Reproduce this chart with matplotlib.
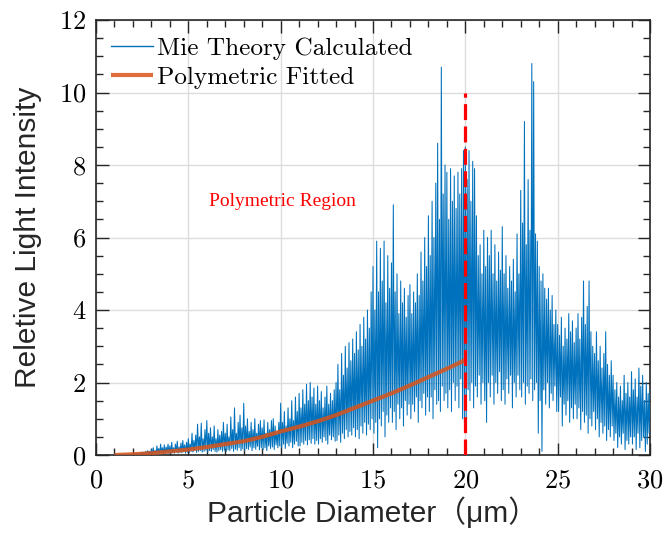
import numpy as np
import matplotlib
matplotlib.use("Agg")
import matplotlib.pyplot as plt
from matplotlib.ticker import MultipleLocator

# ---- Data ----
# Mie signal: for each unit interval [k, k+1), 10 local maxima (at k+0.1*i)
# and 10 local minima (at k+0.1*i+0.05)
mie_start = 1.0
mie_step = 0.1
mie_peaks = [
    # 1
    0.01, 0.01, 0.02, 0.01, 0.02, 0.02, 0.03, 0.02, 0.03, 0.03,
    # 2
    0.03, 0.04, 0.05, 0.04, 0.06, 0.08, 0.07, 0.10, 0.12, 0.10,
    # 3
    0.15, 0.20, 0.12, 0.25, 0.18, 0.30, 0.20, 0.28, 0.22, 0.30,
    # 4
    0.25, 0.35, 0.20, 0.30, 0.38, 0.22, 0.33, 0.40, 0.28, 0.35,
    # 5
    0.45, 0.30, 0.60, 0.40, 0.55, 0.85, 0.50, 0.88, 0.45, 0.70,
    # 6
    0.95, 0.60, 0.75, 0.50, 0.80, 0.45, 0.70, 0.55, 0.65, 0.90,
    # 7
    0.60, 0.85, 0.50, 1.05, 0.70, 1.30, 0.60, 0.90, 1.10, 0.75,
    # 8
    1.43, 0.80, 1.00, 0.65, 0.90, 0.70, 1.00, 0.60, 0.85, 0.95,
    # 9
    0.75, 0.97, 0.60, 0.90, 0.70, 0.95, 1.00, 0.80, 0.65, 0.90,
    # 10
    1.43, 0.90, 1.20, 0.80, 1.30, 1.00, 1.50, 0.95, 1.60, 1.20,
    # 11
    1.70, 1.30, 1.80, 1.40, 1.95, 1.50, 2.00, 1.60, 1.85, 1.40,
    # 12
    1.90, 1.50, 1.75, 1.30, 1.60, 1.90, 1.40, 1.70, 1.50, 1.80,
    # 13
    2.00, 2.50, 1.80, 2.80, 2.20, 3.00, 2.40, 3.10, 2.60, 3.20,
    # 14
    2.80, 3.40, 2.90, 3.60, 3.00, 3.80, 3.20, 4.00, 3.50, 4.50,
    # 15
    5.20, 4.00, 5.90, 4.50, 5.70, 4.80, 5.90, 4.20, 5.50, 4.60,
    # 16
    5.30, 6.90, 4.50, 5.00, 3.90, 4.80, 4.20, 4.60, 3.80, 4.40,
    # 17
    4.70, 3.90, 4.50, 4.20, 5.00, 4.40, 5.60, 4.80, 6.00, 5.20,
    # 18
    6.60, 5.50, 7.00, 6.00, 7.50, 8.60, 6.50, 10.70, 7.20, 8.00,
    # 19
    7.80, 6.50, 7.90, 7.00, 7.70, 6.80, 7.80, 7.20, 7.90, 8.40,
    # 20
    8.50, 7.60, 8.40, 7.00, 8.10, 7.90, 6.60, 5.50, 5.80, 5.00,
    # 21
    6.20, 5.20, 6.00, 5.50, 6.20, 5.00, 5.80, 4.80, 5.60, 5.10,
    # 22
    6.30, 5.00, 5.50, 4.60, 5.20, 4.80, 5.40, 4.50, 6.10, 5.00,
    # 23
    7.30, 6.40, 9.20, 5.80, 7.60, 6.20, 10.80, 10.30, 6.10, 5.90,
    # 24
    5.20, 4.80, 5.00, 4.60, 4.30, 4.60, 4.00, 4.40, 3.60, 4.00,
    # 25
    3.60, 3.30, 3.80, 3.00, 3.50, 3.20, 3.90, 3.40, 3.70, 3.10,
    # 26
    3.50, 3.90, 3.20, 3.80, 4.80, 3.60, 4.10, 4.80, 3.40, 3.00,
    # 27
    2.80, 3.40, 2.60, 3.00, 2.40, 2.80, 3.40, 2.50, 2.20, 2.60,
    # 28
    2.20, 1.80, 2.00, 1.60, 1.90, 1.50, 2.20, 1.70, 2.00, 1.60,
    # 29
    2.30, 1.80, 2.10, 1.60, 2.40, 1.90, 2.20, 1.50, 2.00, 1.70,
]
mie_troughs = [
    # 1
    0.00, 0.00, 0.00, 0.00, 0.00, 0.00, 0.00, 0.00, 0.00, 0.00,
    # 2
    0.00, 0.00, 0.01, 0.00, 0.01, 0.01, 0.01, 0.02, 0.02, 0.01,
    # 3
    0.02, 0.03, 0.02, 0.04, 0.03, 0.05, 0.03, 0.04, 0.05, 0.04,
    # 4
    0.04, 0.06, 0.05, 0.08, 0.05, 0.07, 0.06, 0.09, 0.05, 0.08,
    # 5
    0.06, 0.10, 0.08, 0.12, 0.07, 0.10, 0.12, 0.08, 0.10, 0.13,
    # 6
    0.08, 0.12, 0.10, 0.15, 0.10, 0.08, 0.12, 0.15, 0.10, 0.13,
    # 7
    0.10, 0.14, 0.12, 0.18, 0.10, 0.16, 0.13, 0.20, 0.12, 0.17,
    # 8
    0.12, 0.18, 0.15, 0.22, 0.12, 0.20, 0.16, 0.24, 0.14, 0.20,
    # 9
    0.15, 0.20, 0.12, 0.25, 0.18, 0.22, 0.15, 0.28, 0.20, 0.25,
    # 10
    0.20, 0.30, 0.18, 0.32, 0.25, 0.35, 0.20, 0.30, 0.38, 0.25,
    # 11
    0.25, 0.35, 0.30, 0.40, 0.28, 0.42, 0.32, 0.45, 0.30, 0.40,
    # 12
    0.30, 0.45, 0.35, 0.50, 0.40, 0.30, 0.55, 0.42, 0.50, 0.38,
    # 13
    0.40, 0.55, 0.35, 0.60, 0.45, 0.70, 0.50, 0.65, 0.55, 0.75,
    # 14
    0.50, 0.70, 0.45, 0.80, 0.60, 0.90, 0.55, 0.85, 0.70, 1.00,
    # 15
    0.60, 0.90, 0.20, 1.00, 0.80, 1.20, 0.50, 1.10, 0.90, 1.30,
    # 16
    0.90, 1.20, 0.70, 1.40, 1.00, 1.30, 0.80, 1.50, 1.10, 1.40,
    # 17
    1.00, 1.40, 1.20, 1.60, 0.90, 1.50, 1.30, 1.70, 1.10, 1.60,
    # 18
    1.20, 1.60, 1.00, 1.80, 1.40, 1.50, 1.20, 1.90, 1.50, 1.70,
    # 19
    1.30, 1.80, 1.20, 2.00, 1.50, 1.90, 1.30, 2.10, 1.00, 0.90,
    # 20
    1.00, 1.80, 1.50, 2.00, 1.30, 1.90, 1.60, 2.20, 1.40, 2.00,
    # 21
    1.50, 0.90, 2.00, 1.60, 2.20, 1.40, 2.00, 1.70, 2.30, 1.50,
    # 22
    1.80, 1.40, 2.10, 1.70, 2.20, 1.30, 2.00, 1.60, 2.20, 1.80,
    # 23
    1.60, 2.00, 1.40, 1.90, 1.70, 2.10, 1.50, 1.80, 2.00, 0.60,
    # 24
    1.50, 0.10, 1.80, 1.40, 2.00, 1.30, 1.70, 1.50, 1.90, 1.20,
    # 25
    1.20, 1.60, 0.80, 1.40, 1.10, 1.50, 0.90, 1.30, 1.00, 1.40,
    # 26
    1.00, 1.30, 0.70, 1.20, 0.90, 1.10, 0.60, 1.00, 0.80, 1.20,
    # 27
    0.70, 1.00, 0.50, 0.90, 0.60, 0.80, 0.40, 0.70, 0.50, 0.80,
    # 28
    0.40, 0.60, 0.20, 0.50, 0.30, 0.60, 0.15, 0.40, 0.30, 0.50,
    # 29
    0.30, 0.50, 0.15, 0.60, 0.20, 0.40, 0.50, 0.10, 0.30, 0.60,
]
mie_end_value = 1.80

# Polynomial fit curve, sampled at integer diameters 1..20
fit_x = [1, 2, 3, 4, 5, 6, 7, 8, 9, 10, 11, 12, 13, 14, 15, 16, 17, 18, 19, 20]
fit_y = [0.00, 0.02, 0.05, 0.10, 0.15, 0.22, 0.30, 0.38, 0.50, 0.65,
         0.78, 0.93, 1.10, 1.30, 1.50, 1.70, 1.92, 2.15, 2.38, 2.62]

boundary_x = 20
boundary_top = 10

x_ticks = [0, 5, 10, 15, 20, 25, 30]
y_ticks = [0, 2, 4, 6, 8, 10, 12]

# ---- Build series ----
n = len(mie_peaks)
px = mie_start + mie_step * np.arange(n)
tx = px + mie_step / 2
mie_x = np.empty(2 * n + 1)
mie_y = np.empty(2 * n + 1)
mie_x[0:2 * n:2] = px
mie_x[1:2 * n:2] = tx
mie_y[0:2 * n:2] = mie_peaks
mie_y[1:2 * n:2] = mie_troughs
mie_x[-1] = 30.0
mie_y[-1] = mie_end_value

# ---- Plot ----
plt.rcParams['axes.formatter.use_mathtext'] = True
fig = plt.figure(figsize=(6.63, 5.34), dpi=100)
ax = fig.add_axes([96 / 663, 1 - 455 / 534, (650 - 96) / 663, (455 - 20) / 534])

blue = '#0072BD'
orange = '#D95319'
ax.plot(mie_x, mie_y, color=blue, lw=0.75, label='Mie Theory Calculated', zorder=3)
ax.plot(fit_x, fit_y, color=orange, lw=3.0, alpha=0.85, label='Polymetric Fitted',
        zorder=4, solid_capstyle='butt')
ax.plot([boundary_x, boundary_x], [0, boundary_top], color='#FF0000', lw=2.3,
        dashes=(5, 2), zorder=5)

ax.text(10.1, 7.0, 'Polymetric Region', color='#FF0000', fontsize=14,
        family='Liberation Serif', ha='center', va='center')

ax.set_xlim(0, 30)
ax.set_ylim(0, 12)
ax.set_xticks(x_ticks)
ax.set_yticks(y_ticks)
ax.xaxis.set_minor_locator(MultipleLocator(1))
ax.yaxis.set_minor_locator(MultipleLocator(0.5))
ax.tick_params(which='both', direction='in', top=True, right=True, color='#262626', width=1.0)
ax.tick_params(which='major', length=9, labelsize=19)
ax.tick_params(axis='x', which='major', pad=10)
ax.tick_params(axis='y', which='major', pad=7)
ax.tick_params(which='minor', length=5)
for lab in ax.get_xticklabels() + ax.get_yticklabels():
    lab.set_family('cmr10')
for s in ax.spines.values():
    s.set_color('#262626')
    s.set_linewidth(1.2)
ax.grid(True, which='major', color='#DCDCDC', lw=1.0)
ax.set_axisbelow(True)

ax.set_xlabel('Particle Diameter（μm）', fontsize=21.5,
              family=['Liberation Sans', 'Noto Sans CJK SC'], color='#262626', labelpad=3)
ax.set_ylabel('Reletive Light Intensity', fontsize=21.5,
              family=['Liberation Sans', 'Noto Sans CJK SC'], color='#262626', labelpad=12)

leg = ax.legend(loc='upper left', frameon=False, prop={'family': 'cmr10', 'size': 18.2},
                handlelength=1.65, handletextpad=0.15, labelspacing=0.25,
                borderaxespad=0.2, bbox_to_anchor=(0.0, 0.995))
leg.get_lines()[0].set_linewidth(1.0)

fig.savefig('out.png', dpi=100)
